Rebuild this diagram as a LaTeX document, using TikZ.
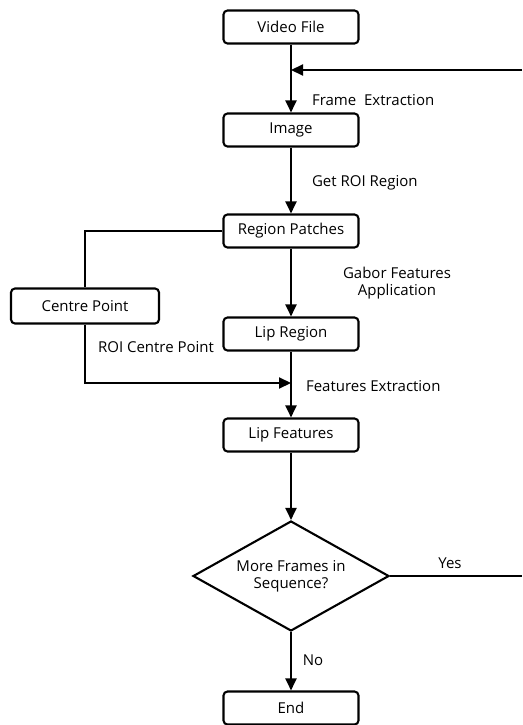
\documentclass[tikz,border=0pt]{standalone}
\usepackage{fontspec}
\setmainfont{Open Sans}
\usetikzlibrary{shapes.geometric,arrows.meta}

\begin{document}
\begin{tikzpicture}[x=1pt,y=-1pt,line width=2.1pt,font=\fontsize{15}{17}\selectfont]
        \tikzstyle{block}=[draw,rounded corners=4pt,minimum width=135pt,minimum height=33pt,inner sep=2pt]
        \tikzstyle{decision}=[draw,diamond,aspect=1.75,minimum width=196pt,minimum height=110pt,inner sep=0pt,align=center]
        \tikzstyle{arrow}=[-{Triangle[length=12pt,width=11pt]}]
        \tikzstyle{lbl}=[anchor=west,inner sep=0pt]
        \useasboundingbox (0,0) rectangle (522,725);
        \node[block] (video) at (291,27) {Video File};
        \node[block] (image) at (291,130) {Image};
        \node[block] (patches) at (291,231) {Region Patches};
        \node[block,minimum width=148pt,minimum height=35pt] (centre) at (85,306) {Centre Point};
        \node[block] (lipregion) at (291,334) {Lip Region};
        \node[block] (lipfeat) at (291,435) {Lip Features};
        \node[decision] (more) at (291,576) {More Frames in\\Sequence?};
        \node[block] (end) at (291,708) {End};
        \coordinate (loopin) at (291,70);
        \coordinate (loopend) at (522,70);
        \coordinate (yesend) at (522,576);
        \coordinate (join) at (291,383);
        % main line
        \draw (video) -- (loopin);
        \draw[arrow] (loopin) -- (image);
        \draw[arrow] (loopend) -- (loopin);
        \draw[arrow] (image) -- (patches);
        \draw[arrow] (patches) -- (lipregion);
        \draw (lipregion) -- (join);
        \draw[arrow] (join) -- (lipfeat);
        \draw[arrow] (lipfeat) -- (more);
        \draw[arrow] (more) -- (end);
        \draw (more.east) -- (yesend);
        % side branch
        \draw (patches.west) -| (centre.north);
        \draw[arrow] (centre.south) |- (join);
        % labels
        \node[lbl] (lframe) at (311,100) {Frame\ \ Extraction};
        \node[lbl] (lroi) at (311,183) {Get ROI Region};
        \node[align=center,inner sep=0pt] (lgabor) at (397,283) {Gabor Features\\Application};
        \node[lbl] (lcentre) at (97,347) {ROI Centre Point};
        \node[lbl] (lfeat) at (305,386) {Features Extraction};
        \node (lyes) at (450,563) {Yes};
        \node (lno) at (313,660) {No};
\end{tikzpicture}
\end{document}
